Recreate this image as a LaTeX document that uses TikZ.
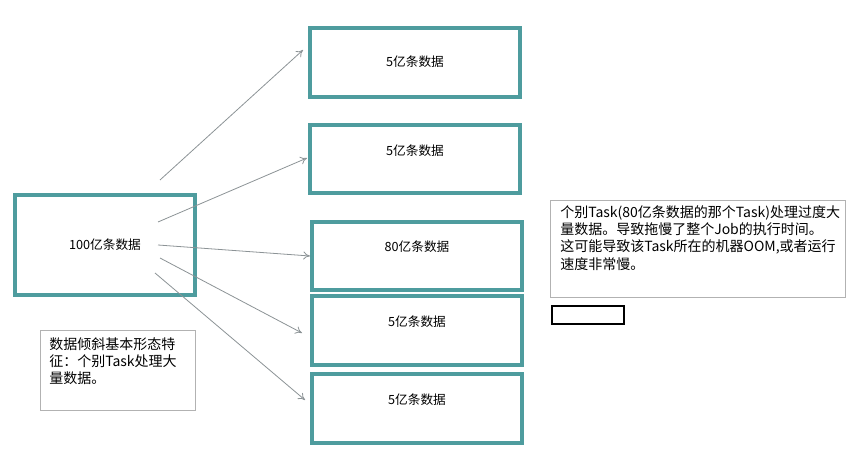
\documentclass[tikz,border=0pt]{standalone}
\usepackage{fontspec}
\setmainfont{Noto Sans CJK SC}
\usetikzlibrary{arrows.meta}
\definecolor{teal1}{HTML}{4E9C9E}
\definecolor{arr}{HTML}{8C9396}
\tikzset{
  databox/.style={draw=teal1,line width=2.4pt,fill=white},
  notebox/.style={draw=gray!60,line width=0.6pt},
  lbl/.style={font=\fontsize{9.5}{13}\selectfont,align=left},
  note/.style={font=\fontsize{10.5}{13}\selectfont,align=left,anchor=north west,inner sep=0pt},
  conn/.style={draw=arr,line width=0.6pt,-{To[length=5pt,width=6pt]}}
}
\begin{document}
\begin{tikzpicture}[x=0.75pt,y=-0.75pt]
\useasboundingbox[fill=white] (0,0) rectangle (860,456);
\draw[databox] (15,195) rectangle (195,295);
\node[lbl] (src) at (105,245) {100亿条数据};
\draw[databox] (310,28) rectangle (520,97);
\node[lbl] (b1) at (415,62) {5亿条数据};
\draw[databox] (310,125) rectangle (520,193);
\node[lbl] (b2) at (415,151) {5亿条数据};
\draw[databox] (312,222) rectangle (522,290);
\node[lbl] (b3) at (417,247) {80亿条数据};
\draw[databox] (312,296) rectangle (522,365);
\node[lbl] (b4) at (417,322) {5亿条数据};
\draw[databox] (312,374) rectangle (522,443);
\node[lbl] (b5) at (417,400) {5亿条数据};
\coordinate (s1) at (160,180); \coordinate (t1) at (303,50);
\coordinate (s2) at (158,222); \coordinate (t2) at (307,158);
\coordinate (s3) at (158,245); \coordinate (t3) at (310,256);
\coordinate (s4) at (160,258); \coordinate (t4) at (302,333);
\coordinate (s5) at (155,273); \coordinate (t5) at (305,400);
\foreach \i in {1,...,5} \draw[conn] (s\i) -- (t\i);
\draw[notebox] (40,330) rectangle (195,410);
\node[note] (n1) at (49,337) {数据倾斜基本形态特\\征：个别Task处理大\\量数据。};
\draw[notebox] (550,200) rectangle (845,297);
\node[note] (n2) at (560,205) {个别Task(80亿条数据的那个Task)处理过度大\\量数据。导致拖慢了整个Job的执行时间。\\这可能导致该Task所在的机器OOM,或者运行\\速度非常慢。};
\draw[line width=2pt] (552,306) rectangle (624,324);
\end{tikzpicture}
\end{document}
